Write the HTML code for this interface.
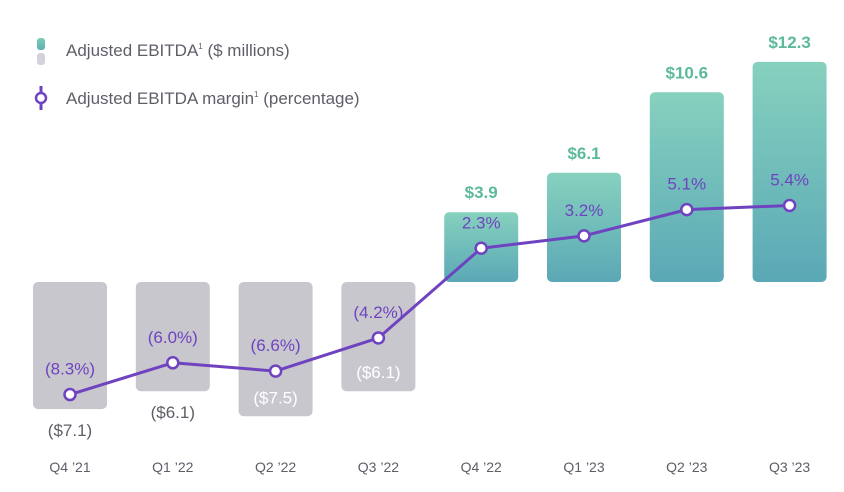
<!DOCTYPE html>
<html><head><meta charset="utf-8"><style>
body{margin:0;background:#fff;}
svg{display:block;font-family:"Liberation Sans",sans-serif;}
</style></head><body>
<svg id="chart" width="844" height="492" viewBox="0 0 844 492" xmlns="http://www.w3.org/2000/svg">
<defs>
<linearGradient id="gpos" x1="0" y1="0" x2="0" y2="1"><stop offset="0" stop-color="#86d1be"/><stop offset="1" stop-color="#5ba8b6"/></linearGradient>
<linearGradient id="glegend" x1="0" y1="0" x2="0" y2="1"><stop offset="0" stop-color="#7dcbb9"/><stop offset="1" stop-color="#5eb0b2"/></linearGradient>
</defs>
<g>
<rect x="37" y="38" width="8" height="12" rx="3" fill="url(#glegend)"/>
<rect x="37" y="53" width="8" height="12" rx="3" fill="#d4d2da"/>
<text x="66" y="56" font-size="17" fill="#5f5d68">Adjusted EBITDA<tspan font-size="8" dy="-7">1</tspan><tspan dy="7"> ($ millions)</tspan></text>
<line x1="41" y1="86" x2="41" y2="110" stroke="#6f43c0" stroke-width="3"/>
<circle cx="41" cy="98" r="5" fill="#fff" stroke="#6f43c0" stroke-width="2.5"/>
<text x="66" y="104" font-size="17" fill="#5f5d68">Adjusted EBITDA margin<tspan font-size="8" dy="-7">1</tspan><tspan dy="7"> (percentage)</tspan></text>
</g>
<g id="bars"></g><g id="line"></g><g id="labels"></g>
</svg>
<script>
const categories=["Q4 \u201921","Q1 \u201922","Q2 \u201922","Q3 \u201922","Q4 \u201922","Q1 \u201923","Q2 \u201923","Q3 \u201923"];
const ebitda=[-7.1,-6.1,-7.5,-6.1,3.9,6.1,10.6,12.3];
const margin=[-8.3,-6.0,-6.6,-4.2,2.3,3.2,5.1,5.4];
const ebitdaLabels=["($7.1)","($6.1)","($7.5)","($6.1)","$3.9","$6.1","$10.6","$12.3"];
const marginLabels=["(8.3%)","(6.0%)","(6.6%)","(4.2%)","2.3%","3.2%","5.1%","5.4%"];
const labelInside=[false,false,true,true,false,false,false,false];
const NS="http://www.w3.org/2000/svg";
const xC=i=>70+i*102.8;
const yB=v=>282-v*17.9;
const yM=v=>280-v*13.8;
const bw=74;
function mk(t,a,p){const e=document.createElementNS(NS,t);for(const k in a)e.setAttribute(k,a[k]);p.appendChild(e);return e;}
const gb=document.getElementById('bars'),gl=document.getElementById('line'),gt=document.getElementById('labels');
ebitda.forEach((v,i)=>{
 const y0=Math.min(yB(0),yB(v)),h=Math.abs(yB(v)-yB(0));
 const r=mk('rect',{x:xC(i)-bw/2,y:y0,width:bw,height:h,rx:5,fill:v<0?'#c9c7ce':'url(#gpos)'},gb);
 
 
 let ly,col;
 if(v>=0){ly=yB(v)-14;col='#5dba99';}
 else if(labelInside[i]){ly=yB(v)-13;col='#fff';}
 else {ly=yB(v)+27;col='#5f5d68';}
 const t=mk('text',{x:xC(i),y:ly,'text-anchor':'middle','font-size':17,fill:col,'font-weight':v>=0?'bold':'normal'},gt);
 t.textContent=ebitdaLabels[i];
 
 
 const c=mk('text',{x:xC(i),y:472,'text-anchor':'middle','font-size':14,fill:'#5f5d68'},gt);
 c.textContent=categories[i];
 
 
});
const pts=margin.map((v,i)=>xC(i)+','+yM(v)).join(' ');
const pl=mk('polyline',{points:pts,fill:'none',stroke:'#6f43c0','stroke-width':3,'stroke-linejoin':'round'},gl);


margin.forEach((v,i)=>{
 const c=mk('circle',{cx:xC(i),cy:yM(v),r:5.5,fill:'#fff',stroke:'#6f43c0','stroke-width':2.5},gl);
 
 
 const t=mk('text',{x:xC(i),y:yM(v)-20,'text-anchor':'middle','font-size':17,fill:'#6f43c0'},gt);
 t.textContent=marginLabels[i];
 
 
});
</script>
</body></html>
